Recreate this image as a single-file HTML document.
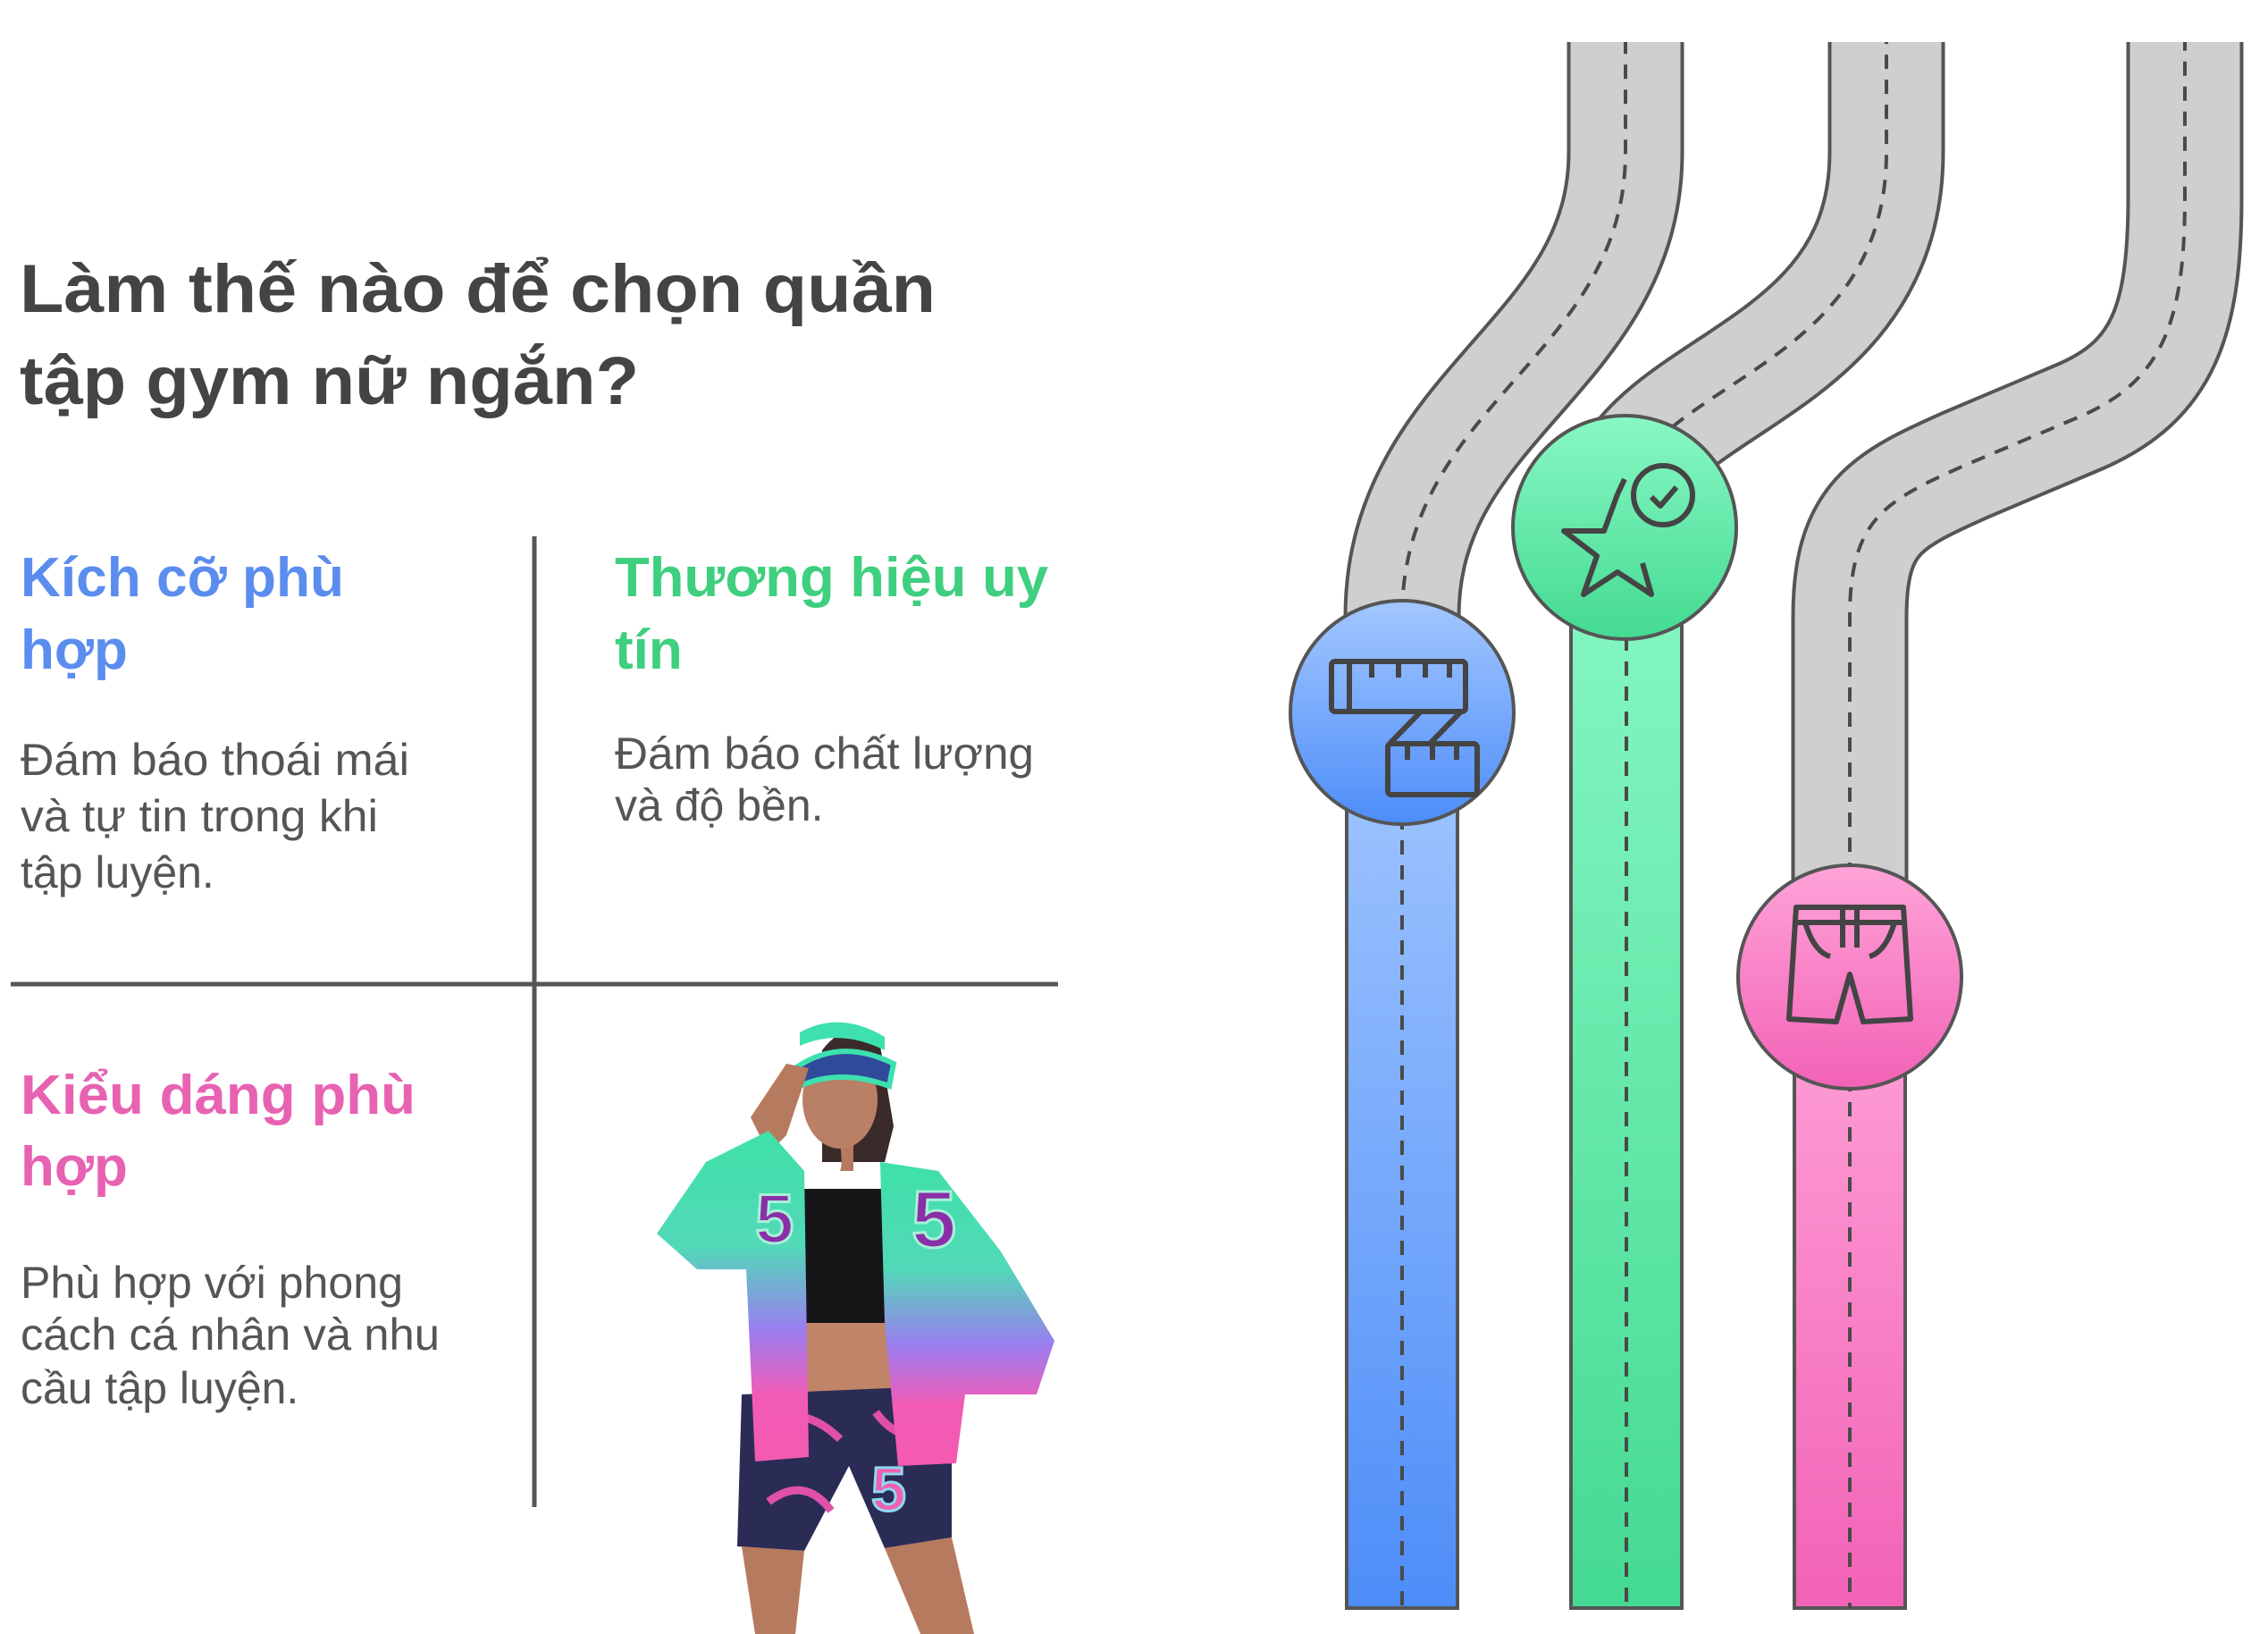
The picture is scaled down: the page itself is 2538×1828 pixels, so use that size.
<!DOCTYPE html>
<html><head><meta charset="utf-8"><style>
html,body{margin:0;padding:0;background:#fff;}
svg{display:block;}
</style></head><body>
<svg width="2538" height="1828" viewBox="0 0 2538 1828" xmlns="http://www.w3.org/2000/svg">
<defs>
<linearGradient id="gb" x1="0" y1="0" x2="0" y2="1"><stop offset="0" stop-color="#a3c7ff"/><stop offset="1" stop-color="#4d8df8"/></linearGradient>
<linearGradient id="gg" x1="0" y1="0" x2="0" y2="1"><stop offset="0" stop-color="#88f8c4"/><stop offset="1" stop-color="#44da92"/></linearGradient>
<linearGradient id="gp" x1="0" y1="0" x2="0" y2="1"><stop offset="0" stop-color="#ffa3d8"/><stop offset="1" stop-color="#f262b6"/></linearGradient>
<linearGradient id="jk" x1="0" y1="0" x2="0" y2="1"><stop offset="0" stop-color="#3ee0a8"/><stop offset="0.35" stop-color="#52d9b8"/><stop offset="0.6" stop-color="#9a7ef0"/><stop offset="0.8" stop-color="#f25bb6"/><stop offset="1" stop-color="#f45ab0"/></linearGradient>
</defs>
<g font-family="Liberation Sans, Noto Sans CJK SC, sans-serif">
<text x="22" y="349" font-size="76" font-weight="bold" fill="#444" textLength="1025" lengthAdjust="spacingAndGlyphs">Làm thế nào để chọn quần</text>
<text x="22" y="452" font-size="76" font-weight="bold" fill="#444" textLength="693" lengthAdjust="spacingAndGlyphs">tập gym nữ ngắn?</text>

<text x="23" y="667" font-size="62" font-weight="bold" fill="#5b8def" textLength="362" lengthAdjust="spacingAndGlyphs">Kích cỡ phù</text>
<text x="23" y="748" font-size="62" font-weight="bold" fill="#5b8def">hợp</text>
<g font-size="50" fill="#555">
<text x="23" y="867" textLength="435" lengthAdjust="spacingAndGlyphs">Đám báo thoái mái</text>
<text x="23" y="930" textLength="400" lengthAdjust="spacingAndGlyphs">và tự tin trong khi</text>
<text x="23" y="993">tập luyện.</text>
</g>

<text x="688" y="667" font-size="62" font-weight="bold" fill="#3ecf7f" textLength="485" lengthAdjust="spacingAndGlyphs">Thương hiệu uy</text>
<text x="688" y="748" font-size="62" font-weight="bold" fill="#3ecf7f">tín</text>
<g font-size="50" fill="#555">
<text x="688" y="860" textLength="469" lengthAdjust="spacingAndGlyphs">Đám báo chất lượng</text>
<text x="688" y="918">và độ bền.</text>
</g>

<text x="23" y="1246" font-size="62" font-weight="bold" fill="#e862b2" textLength="442" lengthAdjust="spacingAndGlyphs">Kiểu dáng phù</text>
<text x="23" y="1326" font-size="62" font-weight="bold" fill="#e862b2">hợp</text>
<g font-size="50" fill="#555">
<text x="23" y="1452" textLength="428" lengthAdjust="spacingAndGlyphs">Phù hợp với phong</text>
<text x="23" y="1510" textLength="469" lengthAdjust="spacingAndGlyphs">cách cá nhân và nhu</text>
<text x="23" y="1570">cầu tập luyện.</text>
</g>
</g>
<line x1="598" y1="600" x2="598" y2="1686" stroke="#555" stroke-width="5"/>
<line x1="12" y1="1101" x2="1184" y2="1101" stroke="#555" stroke-width="5"/>

<!-- woman -->
<g>
<path d="M920,1175 Q950,1135 985,1170 L1000,1260 L990,1300 L920,1300 Z" fill="#3a2a2a"/>
<path d="M880,1470 L1010,1470 L1015,1560 L880,1560 Z" fill="#c08468"/>
<path d="M830,1560 L1065,1550 L1065,1720 L990,1732 L950,1640 L900,1735 L825,1730 Z" fill="#2a2c55"/>
<path d="M850,1590 Q900,1570 940,1610 M980,1580 Q1010,1620 1050,1600 M860,1680 Q900,1650 930,1690" stroke="#e050a8" stroke-width="9" fill="none"/>
<text x="975" y="1690" font-family="Liberation Sans, sans-serif" font-size="70" font-weight="bold" fill="#f060b0" stroke="#8fd8f0" stroke-width="3">5</text>
<path d="M830,1730 L900,1735 L890,1828 L845,1828 Z" fill="#b67a5e"/>
<path d="M990,1732 L1065,1720 L1090,1828 L1030,1828 Z" fill="#b67a5e"/>
<rect x="900" y="1330" width="95" height="150" fill="#151518"/>
<path d="M935,1250 Q945,1300 940,1310 L955,1310 L955,1255 Z" fill="#b67a5e"/>
<ellipse cx="940" cy="1230" rx="42" ry="55" fill="#b98066"/>
<path d="M890,1195 Q940,1160 1000,1190 L995,1215 Q940,1195 895,1215 Z" fill="#2f4a9a" stroke="#3ee0b0" stroke-width="6"/>
<path d="M895,1155 Q940,1130 990,1160 L990,1175 Q940,1150 895,1170 Z" fill="#3ee0b0"/>
<path d="M840,1250 L880,1190 L905,1195 L880,1270 L860,1290 Z" fill="#b67a5e"/>
<path d="M860,1265 L900,1310 L905,1630 L845,1635 L835,1420 L780,1420 L735,1380 L790,1300 Z" fill="url(#jk)"/>
<path d="M985,1300 L1050,1310 L1120,1400 L1180,1500 L1160,1560 L1080,1560 L1070,1637 L1005,1640 L990,1480 Z" fill="url(#jk)"/>
<text x="845" y="1390" font-family="Liberation Sans, sans-serif" font-size="78" font-weight="bold" fill="#8a2fa8" stroke="#a8f0d8" stroke-width="3">5</text>
<text x="1020" y="1395" font-family="Liberation Sans, sans-serif" font-size="90" font-weight="bold" fill="#8a2fa8" stroke="#a8f0d8" stroke-width="3">5</text>
</g>

<!-- roads -->
<g fill="none" stroke-linecap="butt">
<path id="r1" d="M1569,800 L1569,690 C1569,450 1819,400 1819,170 L1819,47" stroke="#555" stroke-width="131"/>
<path d="M1569,800 L1569,690 C1569,450 1819,400 1819,170 L1819,47" stroke="#cfcfcf" stroke-width="123"/>
<path d="M1569,800 L1569,690 C1569,450 1819,400 1819,170 L1819,47" stroke="#4a4a4a" stroke-width="4" stroke-dasharray="16 12"/>
<path d="M1820,600 L1830,520 C1900,420 2111,390 2111,170 L2111,47" stroke="#555" stroke-width="131"/>
<path d="M1820,600 L1830,520 C1900,420 2111,390 2111,170 L2111,47" stroke="#cfcfcf" stroke-width="123"/>
<path d="M1820,600 L1830,520 C1900,420 2111,390 2111,170 L2111,47" stroke="#4a4a4a" stroke-width="4" stroke-dasharray="16 12"/>
<path d="M2070,1093 L2070,690 C2070,580 2110,560 2200,520 L2330,465 C2420,425 2445,360 2445,220 L2445,47" stroke="#555" stroke-width="131"/>
<path d="M2070,1093 L2070,690 C2070,580 2110,560 2200,520 L2330,465 C2420,425 2445,360 2445,220 L2445,47" stroke="#cfcfcf" stroke-width="123"/>
<path d="M2070,1093 L2070,690 C2070,580 2110,560 2200,520 L2330,465 C2420,425 2445,360 2445,220 L2445,47" stroke="#4a4a4a" stroke-width="4" stroke-dasharray="16 12"/>
</g>
<!-- colored lanes -->
<rect x="1507" y="800" width="124" height="999" fill="url(#gb)" stroke="#555" stroke-width="4"/>
<line x1="1569" y1="800" x2="1569" y2="1799" stroke="#4a4a4a" stroke-width="4" stroke-dasharray="16 12"/>
<rect x="1758" y="600" width="124" height="1199" fill="url(#gg)" stroke="#555" stroke-width="4"/>
<line x1="1820" y1="600" x2="1820" y2="1799" stroke="#4a4a4a" stroke-width="4" stroke-dasharray="16 12"/>
<rect x="2008" y="1093" width="124" height="706" fill="url(#gp)" stroke="#555" stroke-width="4"/>
<line x1="2070" y1="1093" x2="2070" y2="1799" stroke="#4a4a4a" stroke-width="4" stroke-dasharray="16 12"/>

<!-- circles -->
<circle cx="1569" cy="797" r="125" fill="url(#gb)" stroke="#555" stroke-width="4"/>
<circle cx="1818" cy="590" r="125" fill="url(#gg)" stroke="#555" stroke-width="4"/>
<circle cx="2070" cy="1093" r="125" fill="url(#gp)" stroke="#555" stroke-width="4"/>

<g fill="none" stroke="#444" stroke-width="6" stroke-linejoin="round">
<rect x="1490" y="740" width="150" height="56" rx="4"/>
<line x1="1510" y1="740" x2="1510" y2="796"/>
<path d="M1535,740 v18 M1565,740 v18 M1595,740 v18 M1622,740 v18"/>
<path d="M1590,796 L1555,832 M1635,796 L1600,832"/>
<rect x="1553" y="832" width="100" height="57" rx="4"/>
<path d="M1575,832 v18 M1603,832 v18 M1630,832 v18"/>
<path d="M1810,553 L1795,594 L1750,594 L1787,622 L1772,665 L1810,640 L1848,665 L1838,630"/>
<path d="M1810,553 L1818,536"/>
<circle cx="1861" cy="554" r="33"/>
<path d="M1848,556 L1858,566 L1876,545"/>
<path d="M2010,1015 L2130,1015 L2138,1140 L2085,1143 L2070,1090 L2055,1143 L2002,1140 Z"/>
<path d="M2010,1032 H2130 M2062,1015 V1060 M2078,1015 V1060 M2020,1032 Q2030,1065 2048,1070 M2120,1032 Q2110,1065 2092,1070"/>
</g>
</svg>
</body></html>
